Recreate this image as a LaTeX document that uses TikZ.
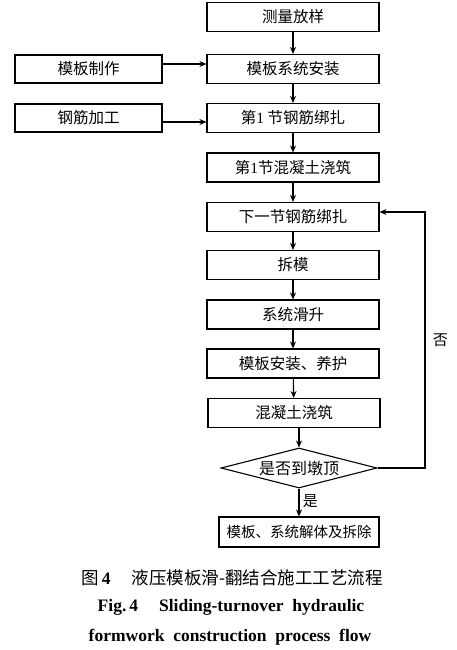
\documentclass[tikz,border=0pt]{standalone}
\usepackage{fontspec}
\setmainfont{Liberation Serif}
\newfontfamily\cjk{Noto Sans CJK SC}
\usetikzlibrary{arrows.meta,shapes.geometric}

\begin{document}
\begin{tikzpicture}[x=1pt,y=-1pt,
  box/.style={draw,line width=1.1pt,minimum width=172pt,minimum height=29pt,
    inner sep=0pt,font=\cjk\fontsize{15.5}{15.5}\selectfont},
  sidebox/.style={box,minimum width=147pt,minimum height=28pt},
  decision/.style={draw,diamond,line width=1.1pt,aspect=3.9,inner sep=0pt,
    minimum width=156pt,minimum height=40pt,font=\cjk\fontsize{16}{16}\selectfont},
  arr/.style={line width=1.1pt,-{Stealth[length=7pt,width=6pt]}},
  lbl/.style={font=\cjk\fontsize{15}{15}\selectfont},
  caption/.style={font=\bfseries\fontsize{17.5}{17.5}\selectfont}]
  \useasboundingbox[fill=white] (0,0) rectangle (456,650);
  % Main column
  \node[box] (survey) at (293,17) {测量放样};
  \node[box] (install) at (293,69) {模板系统安装};
  \node[box] (rebarA) at (293,118) {第\textrm{1} 节钢筋绑扎};
  \node[box] (pourA) at (293,167.5) {第\textrm{1}节混凝土浇筑};
  \node[box] (rebarN) at (293,217) {下一节钢筋绑扎};
  \node[box] (strip) at (293,265) {拆模};
  \node[box] (slide) at (293,314.5) {系统滑升};
  \node[box] (refit) at (293,363.5) {模板安装、养护};
  \node[box] (pour) at (294,413) {混凝土浇筑};
  \node[decision] (top) at (299,468) {是否到墩顶};
  \node[box,minimum width=160pt,minimum height=30pt,
    font=\cjk\fontsize{14.5}{14.5}\selectfont] (remove) at (299,532) {模板、系统解体及拆除};
  % Side inputs
  \node[sidebox] (make) at (88.5,69) {模板制作};
  \node[sidebox] (cut) at (88.5,118) {钢筋加工};
  % Arrows
  \draw[arr] (survey) -- (install);
  \draw[arr] (install) -- (rebarA);
  \draw[arr] (rebarA) -- (pourA);
  \draw[arr] (pourA) -- (rebarN);
  \draw[arr] (rebarN) -- (strip);
  \draw[arr] (strip) -- (slide);
  \draw[arr] (slide) -- (refit);
  \draw[arr] (refit) -- (pour);
  \draw[arr] (pour.south -| top.north) -- (top.north);
  \draw[arr] (top) -- node[lbl,right,pos=0.45] {是} (remove);
  \draw[arr] ([yshift=5pt]make.east) -- ([yshift=5pt]install.west);
  \draw[arr] ([yshift=-4pt]cut.east) -- ([yshift=-4pt]rebarA.west);
  % Loop back
  \coordinate (back) at (425,0);
  \draw[arr] (top.east) -- (top.east -| back) |- ([yshift=5pt]rebarN.east)
    node[lbl,pos=0.25,right=4pt] {否};
  % Caption
  \node[font=\cjk\fontsize{17.5}{17.5}\selectfont] (capA) at (232,578)
    {图\,\textrm{\bfseries 4}\hspace{1.2em}液压模板滑-翻结合施工工艺流程};
  \node[caption] (capB) at (231,607)
    {Fig.\,4\hspace{1.2em}Sliding-turnover\hspace{0.5em}hydraulic};
  \node[caption] (capC) at (230,637)
    {formwork\hspace{0.5em}construction\hspace{0.5em}process\hspace{0.5em}flow};
\end{tikzpicture}
\end{document}
